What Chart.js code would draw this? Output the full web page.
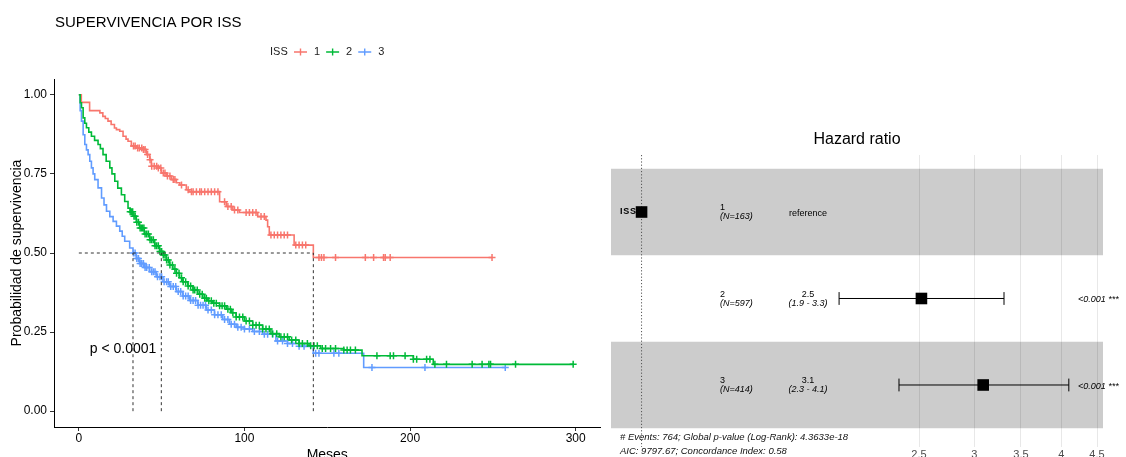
<!DOCTYPE html>
<html>
<head>
<meta charset="utf-8">
<script src="https://cdn.jsdelivr.net/npm/chart.js@4"></script>
<style>
  html, body { margin: 0; padding: 0; background: #fff; overflow: hidden; width: 1126px; height: 457px; }
  #km { position: absolute; left: 0; top: 0; }
  #forest { position: absolute; left: 600px; top: 0; }
</style>
</head>
<body>
<canvas id="km" width="606" height="470"></canvas>
<canvas id="forest" width="526" height="470"></canvas>
<script>
const FONT = "'Liberation Sans', Arial, Helvetica, sans-serif";

// ---- Survival curves (Kaplan–Meier), time in months ----
const seriesNames = ['1', '2', '3'];
const seriesColors = ['#F8766D', '#00BA38', '#619CFF'];

// [time of drop, survival after the drop]
const iss1Steps = [
  [0, 1], [1.5, 0.976], [6.5, 0.95], [12.7, 0.943], [14.5, 0.932], [16, 0.925], [17.6, 0.917],
  [19.5, 0.906], [21.5, 0.895], [22.7, 0.89], [24.7, 0.885], [26.7, 0.869], [28.5, 0.86],
  [29.7, 0.853], [31.7, 0.838], [34.7, 0.832], [38.7, 0.827], [40.8, 0.811], [42.8, 0.795],
  [43.8, 0.774], [47.8, 0.769], [49.8, 0.753], [52.8, 0.743], [55.8, 0.732], [58.9, 0.722],
  [61, 0.715], [64.9, 0.70], [66.5, 0.694], [85, 0.662], [89, 0.647], [93, 0.636], [97, 0.628],
  [108, 0.615], [113, 0.604], [114, 0.583], [115, 0.557], [130, 0.525], [141.6, 0.486], [249.5, 0.486]
];
const iss2Steps = [
  [0, 1], [0.8, 0.975], [1.6, 0.959], [2.6, 0.927], [3.6, 0.91], [4.6, 0.896], [6, 0.882],
  [7.6, 0.869], [9.5, 0.856], [11.6, 0.843], [13, 0.83], [14.6, 0.811], [16.5, 0.79],
  [18.7, 0.769], [20, 0.75], [21.7, 0.727], [23.5, 0.705], [25.7, 0.684], [27.7, 0.663],
  [29.7, 0.642], [31, 0.63], [32.7, 0.616], [34.7, 0.597], [36.7, 0.579], [39.5, 0.56],
  [42.8, 0.542], [45.8, 0.523], [48.8, 0.505], [50.8, 0.494], [52.8, 0.478], [54.8, 0.462],
  [56.8, 0.449], [58.8, 0.436], [60.8, 0.422], [62.8, 0.409], [65.8, 0.396], [68.9, 0.383],
  [71.9, 0.37], [74.9, 0.357], [77.9, 0.349], [80.9, 0.341], [85, 0.333], [89, 0.322],
  [92, 0.311], [95, 0.298], [100, 0.285], [105, 0.272], [111, 0.26], [116, 0.245], [121, 0.235],
  [127, 0.225], [133, 0.214], [139, 0.207], [146, 0.198], [160, 0.193], [171, 0.175],
  [202, 0.164], [214, 0.148], [298.5, 0.148]
];
const iss3Steps = [
  [0, 1], [0.8, 0.95], [1.6, 0.917], [2.6, 0.874], [3.6, 0.843], [4.6, 0.826], [5.6, 0.811],
  [6.6, 0.79], [7.6, 0.769], [8.6, 0.75], [9.6, 0.732], [11.6, 0.706], [13.7, 0.674],
  [15.2, 0.652], [16.7, 0.632], [18.7, 0.615], [20.7, 0.6], [22.7, 0.585], [24.7, 0.569],
  [26.2, 0.553], [27.7, 0.537], [30.7, 0.516], [32.7, 0.5], [34.7, 0.483], [36.7, 0.467],
  [39.7, 0.454], [42.8, 0.441], [46.7, 0.425], [50.8, 0.409], [54.8, 0.394], [58.8, 0.378],
  [62.8, 0.364], [66.8, 0.35], [71.9, 0.335], [76.9, 0.32], [81.9, 0.305], [86.9, 0.29],
  [91, 0.275], [95, 0.265], [100, 0.26], [105, 0.252], [111, 0.243], [119, 0.222],
  [126, 0.214], [133, 0.205], [141.6, 0.183], [172, 0.138], [257.5, 0.138]
];

// censoring times (months)
const iss1Censored = [33, 34, 35.5, 36.5, 38, 39, 40, 41.5, 43, 44, 45.5, 47, 48, 49.5, 51, 52,
  53.5, 55, 57, 58, 62, 66, 68, 69, 71, 73, 74, 76, 78, 80, 82, 84, 88, 90, 92, 94, 96, 101, 103,
  105, 107, 110, 112, 116, 118, 120, 122, 124, 126, 131, 133, 135, 137, 145, 146.5, 148, 155,
  173, 178, 184, 185, 188, 249.5];
const iss2Censored = [31, 31.8, 32.5, 33.3, 34, 35, 36, 37, 37.8, 38.5, 39.3, 40, 41, 42, 43, 44,
  45, 46, 47, 48, 49, 50, 51, 52, 53, 54, 55, 56.5, 58, 59, 60.5, 62, 63, 64.5, 66, 67.5, 69, 70,
  71.5, 73, 74.5, 76, 77, 78.5, 80, 81.5, 83, 85, 86.5, 88, 90, 91.5, 93, 95, 97, 99, 101, 103,
  105, 107, 109, 111, 113, 115, 117, 119.5, 122, 124, 126, 128.5, 131, 133, 135, 138, 140, 142,
  144, 147, 149, 152, 155, 160, 162, 164, 167, 180, 188, 190, 197, 202, 204, 210, 212, 215, 222,
  237.5, 243.5, 247.6, 248.6, 263.7, 298.5];
const iss3Censored = [33, 34, 35, 36, 37, 38, 39, 40, 41, 42.5, 44, 45, 46, 47.5, 49, 50, 51.5,
  53, 54, 55.5, 57, 58.5, 60, 61.5, 63, 64.5, 66, 67.5, 69, 70.5, 72, 73.5, 75, 76.5, 78, 80, 82,
  84, 86, 88, 90, 92, 94, 96, 98, 100, 103, 106, 109, 112, 114, 117, 120, 123, 126, 129, 133,
  136, 143, 145, 154, 157, 177, 209, 257.5];

const medianMonths = [141.6, 49.8, 32.7];
const xTickValues = [0, 100, 200, 300];
const yTickValues = [0, 0.25, 0.5, 0.75, 1];
const pValueLabel = 'p < 0.0001';

// ---- Cox model: hazard ratios for ISS ----
const hrGroups = ['1', '2', '3'];
const hrCounts = [163, 597, 414];
const hrEstimate = [1, 2.52, 3.09];
const hrLower = [null, 1.92, 2.34];
const hrUpper = [null, 3.31, 4.10];
const hrPLabels = ['', '<0.001 ***', '<0.001 ***'];
const hrTickValues = [2.5, 3, 3.5, 4, 4.5];
const modelFooter = [
  '# Events: 764; Global p-value (Log-Rank): 4.3633e-18',
  'AIC: 9797.67; Concordance Index: 0.58'
];

// step-function lookup so censor marks sit on their curve
function survivalAt(steps, t) {
  let s = steps[0][1];
  for (const [time, surv] of steps) {
    if (time <= t) s = surv; else break;
  }
  return s;
}

const stepSets = [iss1Steps, iss2Steps, iss3Steps];
const censorSets = [iss1Censored, iss2Censored, iss3Censored];
const drawOrder = [4, 2, 6]; // green over red over blue

const kmDatasets = [];
stepSets.forEach((steps, i) => {
  kmDatasets.push({
    type: 'line',
    data: steps.map(([x, y]) => ({ x, y })),
    borderColor: seriesColors[i],
    borderWidth: 1.6,
    stepped: true,
    pointRadius: 0,
    fill: false,
    order: drawOrder[i]
  });
  kmDatasets.push({
    type: 'scatter',
    data: censorSets[i].map(t => ({ x: t, y: survivalAt(steps, t) })),
    pointStyle: 'cross',
    pointRadius: 3.5,
    pointBorderWidth: 1.5,
    borderColor: seriesColors[i],
    backgroundColor: seriesColors[i],
    order: drawOrder[i] - 1
  });
});

// median survival guide lines
const dashStyle = { type: 'line', borderColor: '#333', borderWidth: 1, borderDash: [3, 3], pointRadius: 0, fill: false, order: 0 };
kmDatasets.push(Object.assign({}, dashStyle, {
  data: [{ x: 0, y: 0.5 }, { x: Math.max(...medianMonths), y: 0.5 }]
}));
medianMonths.forEach(m => {
  kmDatasets.push(Object.assign({}, dashStyle, { data: [{ x: m, y: 0 }, { x: m, y: 0.5 }] }));
});

const kmDecor = {
  id: 'kmDecor',
  afterDatasetsDraw(chart) {
    const { ctx, scales } = chart;
    ctx.save();
    ctx.fillStyle = '#000';
    ctx.font = '14px ' + FONT;
    ctx.textAlign = 'left';
    ctx.textBaseline = 'middle';
    ctx.fillText(pValueLabel, scales.x.getPixelForValue(6.6), scales.y.getPixelForValue(0.195));
    ctx.restore();
  },
  afterDraw(chart) {
    const { ctx } = chart;
    ctx.save();
    ctx.fillStyle = '#000';
    ctx.textBaseline = 'middle';
    ctx.textAlign = 'left';
    ctx.font = '15px ' + FONT;
    ctx.fillText('SUPERVIVENCIA POR ISS', 55, 23);

    // legend
    const ly = 52;
    ctx.font = '11px ' + FONT;
    ctx.fillStyle = '#222';
    ctx.fillText('ISS', 270, ly);
    let x = 294;
    seriesNames.forEach((name, i) => {
      ctx.strokeStyle = seriesColors[i];
      ctx.lineWidth = 1.4;
      ctx.beginPath();
      ctx.moveTo(x, ly); ctx.lineTo(x + 13, ly);
      ctx.moveTo(x + 6.5, ly - 3.5); ctx.lineTo(x + 6.5, ly + 3.5);
      ctx.stroke();
      ctx.fillStyle = '#222';
      ctx.fillText(name, x + 20, ly);
      x += 20 + ctx.measureText(name).width + 6;
    });
    ctx.restore();
  }
};

new Chart(document.getElementById('km'), {
  data: { datasets: kmDatasets },
  options: {
    responsive: false,
    animation: false,
    events: [],
    layout: { padding: { left: 0, right: 4, top: 79, bottom: 0 } },
    plugins: { legend: { display: false }, tooltip: { enabled: false }, title: { display: false } },
    scales: {
      x: {
        type: 'linear', min: -15, max: 315, bounds: 'data',
        afterBuildTicks: s => { s.ticks = xTickValues.map(v => ({ value: v })); },
        afterFit: s => { s.height = 43; },
        grid: { drawOnChartArea: false, drawTicks: true, tickLength: 4, color: '#333', lineWidth: 1 },
        border: { display: true, color: '#000', width: 1 },
        ticks: { color: '#000', font: { family: FONT, size: 12 }, padding: 0.5, maxRotation: 0, autoSkip: false, callback: v => String(v) },
        title: { display: true, text: 'Meses', color: '#000', font: { family: FONT, size: 14 }, padding: { top: 0, bottom: 6.5 } }
      },
      y: {
        type: 'linear', min: -0.05, max: 1.05, bounds: 'data',
        afterBuildTicks: s => { s.ticks = yTickValues.map(v => ({ value: v })); },
        afterFit: s => { s.width = 54; },
        grid: { drawOnChartArea: false, drawTicks: true, tickLength: 4, color: '#333', lineWidth: 1 },
        border: { display: true, color: '#000', width: 1 },
        ticks: { color: '#000', font: { family: FONT, size: 12 }, padding: 3, autoSkip: false, callback: v => Number(v).toFixed(2) },
        title: { display: true, text: 'Probabilidad de supervivencia', color: '#000', font: { family: FONT, size: 14 }, padding: { top: 9, bottom: 0 } }
      }
    }
  },
  plugins: [kmDecor]
});

// ---- Forest plot ----
const rowMin = 0.341, rowMax = 3.717;
const forestDatasets = [];
forestDatasets.push({
  type: 'line',
  data: [{ x: 1, y: rowMin }, { x: 1, y: rowMax }],
  borderColor: '#555', borderWidth: 1, borderDash: [1.2, 2], pointRadius: 0, fill: false, order: 3
});
hrEstimate.forEach((est, i) => {
  if (hrLower[i] === null) return;
  forestDatasets.push({
    type: 'line',
    data: [{ x: hrLower[i], y: i + 1 }, { x: hrUpper[i], y: i + 1 }],
    borderColor: '#000', borderWidth: 1, fill: false,
    pointStyle: 'line', pointRotation: 90, pointRadius: 6.4,
    pointBorderWidth: 1, pointBorderColor: '#000', order: 2
  });
});
forestDatasets.push({
  type: 'scatter',
  data: hrEstimate.map((v, i) => ({ x: v, y: i + 1 })),
  pointStyle: 'rect', pointRadius: 8.2, backgroundColor: '#000', borderColor: '#000', pointBorderWidth: 0, order: 1
});

const forestDecor = {
  id: 'forestDecor',
  beforeDraw(chart) {
    const { ctx, chartArea, scales } = chart;
    ctx.save();
    ctx.fillStyle = '#cccccc';
    hrGroups.forEach((g, i) => {
      if (i % 2 !== 0) return;
      const yTop = scales.y.getPixelForValue(i + 0.5);
      const yBot = scales.y.getPixelForValue(i + 1.5);
      ctx.fillRect(chartArea.left, yTop, chartArea.right - chartArea.left, yBot - yTop);
    });
    ctx.restore();
  },
  afterDraw(chart) {
    const { ctx, chartArea, scales } = chart;
    ctx.save();
    ctx.fillStyle = '#000';
    ctx.textBaseline = 'middle';

    ctx.textAlign = 'center';
    ctx.font = '16px ' + FONT;
    ctx.fillText('Hazard ratio', (chartArea.left + chartArea.right) / 2, 140);

    const left = chartArea.left;
    const colGroup = left + 109;
    const colHr = left + 197;
    const colP = left + 467;

    ctx.textAlign = 'left';
    ctx.font = 'bold 9px ' + FONT;
    try { ctx.letterSpacing = '0.8px'; } catch (e) {}
    ctx.fillText('ISS', left + 9, scales.y.getPixelForValue(1));
    try { ctx.letterSpacing = '0px'; } catch (e) {}

    hrGroups.forEach((g, i) => {
      const yc = scales.y.getPixelForValue(i + 1);
      ctx.textAlign = 'left';
      ctx.font = '9px ' + FONT;
      ctx.fillText(g, colGroup, yc - 4);
      ctx.font = 'italic 9px ' + FONT;
      ctx.fillText('(N=' + hrCounts[i] + ')', colGroup, yc + 5);

      ctx.textAlign = 'center';
      if (hrLower[i] === null) {
        ctx.font = '9px ' + FONT;
        ctx.fillText('reference', colHr, yc + 1.5);
      } else {
        ctx.font = '9px ' + FONT;
        ctx.fillText(hrEstimate[i].toFixed(1), colHr, yc - 4);
        ctx.font = 'italic 9px ' + FONT;
        ctx.fillText('(' + hrLower[i].toFixed(1) + ' - ' + hrUpper[i].toFixed(1) + ')', colHr, yc + 5);
      }
      if (hrPLabels[i]) {
        ctx.textAlign = 'left';
        ctx.font = 'italic 9px ' + FONT;
        ctx.fillText(hrPLabels[i], colP, yc + 1.5);
      }
    });

    ctx.textAlign = 'left';
    ctx.font = 'italic 9.5px ' + FONT;
    ctx.fillStyle = '#111';
    ctx.fillText(modelFooter[0], left + 9, 437.7);
    ctx.fillText(modelFooter[1], left + 9, 451.7);
    ctx.restore();
  }
};

new Chart(document.getElementById('forest'), {
  data: { datasets: forestDatasets },
  options: {
    responsive: false,
    animation: false,
    events: [],
    layout: { padding: { left: 11, right: 23, top: 155, bottom: 0 } },
    plugins: { legend: { display: false }, tooltip: { enabled: false }, title: { display: false } },
    scales: {
      x: {
        type: 'logarithmic', min: 0.904, max: 4.59, bounds: 'data',
        afterBuildTicks: s => { s.ticks = hrTickValues.map(v => ({ value: v })); },
        afterFit: s => { s.height = 23; },
        grid: { color: 'rgba(0,0,0,0.09)', lineWidth: 1, drawTicks: false },
        border: { display: false },
        ticks: { color: '#4d4d4d', font: { family: FONT, size: 11 }, padding: 1.5, autoSkip: false, maxRotation: 0, callback: v => String(v) }
      },
      y: { type: 'linear', reverse: true, min: rowMin, max: rowMax, display: false }
    }
  },
  plugins: [forestDecor]
});
</script>
</body>
</html>
